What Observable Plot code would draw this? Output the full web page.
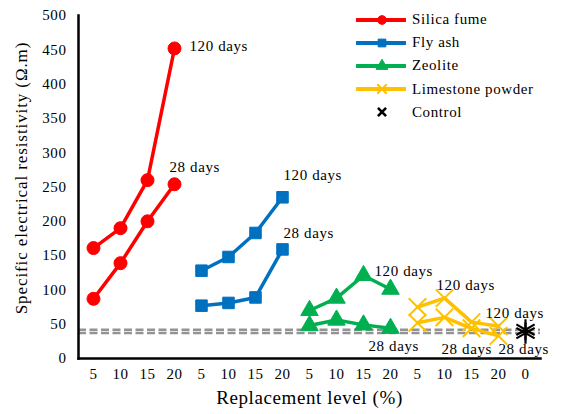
<!DOCTYPE html>
<html>
<head>
<meta charset="utf-8">
<script src="https://cdn.jsdelivr.net/npm/d3@7"></script>
<script src="https://cdn.jsdelivr.net/npm/@observablehq/plot@0.6"></script>
<style>
  html, body { margin: 0; padding: 0; background: #fff; }
  #wrap { position: relative; width: 561px; height: 414px; font-family: "Liberation Serif", "Times New Roman", serif; }
  #legend { position: absolute; left: 356px; top: 8px; font-size: 15px; letter-spacing: 0.6px; color: #000; }
  #legend .row { display: flex; align-items: center; height: 23.2px; }
  #legend svg { margin-right: 6px; }
  #ytitle { position: absolute; left: 22px; top: 178px; transform: translate(-50%, -50%) rotate(-90deg);
            white-space: nowrap; font-size: 17px; letter-spacing: 0.9px; color: #000; }
</style>
</head>
<body>
<div id="wrap"><div id="legend"></div><div id="ytitle">Specific electrical resistivity (Ω.m)</div></div>
<script>
// ---- data ----
const groups = ["Silica fume", "Fly ash", "Zeolite", "Limestone powder"];
const levels = [5, 10, 15, 20];
const silicaFume120 = [161, 190, 260, 452];
const silicaFume28  = [87, 139, 200, 254];
const flyAsh120     = [128, 148, 183, 235];
const flyAsh28      = [77, 81, 89, 159];
const zeolite120    = [70, 88, 121, 101];
const zeolite28     = [48, 56, 49, 44];
const limestone120  = [75, 88, 53, 47];
const limestone28   = [52, 60, 44, 33];
const controlLevel  = 0;
const control120    = 42;
const control28     = 37;
const yTicks = [0, 50, 100, 150, 200, 250, 300, 350, 400, 450, 500];

// ---- styles ----
const colors  = ["#FF0000", "#0070C0", "#00B050", "#FFC000"];
const symbols = ["circle", "square", "triangle", "times"];
const radius  = [6.5, 6.5, 6.5, 8];

const series120 = [silicaFume120, flyAsh120, zeolite120, limestone120];
const series28  = [silicaFume28, flyAsh28, zeolite28, limestone28];

const key = (g, l) => g + "|" + l;
const xDomain = groups.flatMap(g => levels.map(l => key(g, l))).concat([key("Control", controlLevel)]);

const rows = [];
groups.forEach((g, gi) => {
  levels.forEach((l, li) => {
    rows.push({group: g, age: "120", key: key(g, l), value: series120[gi][li]});
    rows.push({group: g, age: "28", key: key(g, l), value: series28[gi][li]});
  });
});
const controlRows = [
  {age: "120", key: key("Control", controlLevel), value: control120},
  {age: "28", key: key("Control", controlLevel), value: control28}
];

// label annotations anchored on data points (offsets in px)
const labels = [
  {key: key("Silica fume", 20), value: silicaFume120[3], text: "120 days", dx: 15, dy: -2},
  {key: key("Silica fume", 20), value: silicaFume28[3], text: "28 days", dx: -5, dy: -17},
  {key: key("Fly ash", 20), value: flyAsh120[3], text: "120 days", dx: 1, dy: -22},
  {key: key("Fly ash", 20), value: flyAsh28[3], text: "28 days", dx: 1, dy: -16},
  {key: key("Zeolite", 20), value: zeolite120[3], text: "120 days", dx: -16, dy: -18},
  {key: key("Zeolite", 20), value: zeolite28[3], text: "28 days", dx: -22, dy: 18},
  {key: key("Limestone powder", 10), value: limestone120[1], text: "120 days", dx: -8, dy: -13},
  {key: key("Limestone powder", 15), value: limestone28[2], text: "28 days", dx: -30, dy: 21},
  {key: key("Control", controlLevel), value: control120, text: "120 days", dx: -40, dy: -17},
  {key: key("Control", controlLevel), value: control28, text: "28 days", dx: -27, dy: 16}
];

const marks = [
  Plot.ruleY([control120, control28], {stroke: "#939393", strokeWidth: 2.5, strokeDasharray: "8,3.5"}),
  Plot.frame({anchor: "left", stroke: "#000", strokeWidth: 2.5}),
  Plot.frame({anchor: "bottom", stroke: "#000", strokeWidth: 2.5}),
  Plot.axisY({ticks: yTicks, tickSize: 0, tickPadding: 12, fontSize: 15, label: null}),
  Plot.axisX({tickSize: 0, tickPadding: 10, fontSize: 15, label: null, tickFormat: k => k.split("|")[1]}),
];
groups.forEach((g, gi) => {
  const data = rows.filter(d => d.group === g);
  marks.push(Plot.line(data, {x: "key", y: "value", z: "age", stroke: colors[gi], strokeWidth: 3.5}));
  marks.push(Plot.dot(data, {
    x: "key", y: "value", symbol: () => symbols[gi], r: radius[gi],
    fill: symbols[gi] === "times" ? "none" : colors[gi],
    stroke: colors[gi], strokeWidth: symbols[gi] === "times" ? 2 : 1
  }));
});
marks.push(Plot.dot(controlRows, {x: "key", y: "value", symbol: "asterisk", r: 10, stroke: "#000", strokeWidth: 2.2}));
labels.forEach(l => marks.push(
  Plot.text([l], {x: "key", y: "value", text: "text", dx: l.dx, dy: l.dy, textAnchor: "start", fontSize: 15, fill: "#000"})
));
marks.push(Plot.text(["Replacement level (%)"], {frameAnchor: "bottom", dy: 45, fontSize: 19, fill: "#000", style: "letter-spacing:0.9px"}));

const chart = Plot.plot({
  width: 561,
  height: 414,
  marginLeft: 78,
  marginRight: 21,
  marginTop: 15,
  marginBottom: 56,
  style: {fontFamily: "'Liberation Serif', 'Times New Roman', serif", color: "#000", background: "#fff", letterSpacing: "0.6px"},
  x: {type: "point", domain: xDomain, padding: 0.5},
  y: {domain: [0, 500]},
  symbol: {type: "identity"},
  marks
});
document.getElementById("wrap").prepend(chart);

// legend
const legendItems = groups.map((g, i) => ({label: g, color: colors[i], symbol: symbols[i], line: true}))
  .concat([{label: "Control", color: "#000", symbol: "times", line: false}]);
const legend = document.getElementById("legend");
legendItems.forEach((it, i) => {
  const row = document.createElement("div");
  row.className = "row";
  const sym = d3.symbol().type({
    circle: d3.symbolCircle, square: d3.symbolSquare, triangle: d3.symbolTriangle,
    times: d3.symbolTimes, asterisk: d3.symbolAsterisk
  }[it.symbol]).size(it.line ? 60 : 45)();
  const isStroke = it.symbol === "times" || it.symbol === "asterisk";
  row.innerHTML = `<svg width="50" height="16" viewBox="0 0 50 16">
    ${it.line ? `<line x1="1" y1="8" x2="49" y2="8" stroke="${it.color}" stroke-width="4" stroke-linecap="round"/>` : ""}
    <path d="${sym}" transform="translate(26,8)" fill="${isStroke ? "none" : it.color}" stroke="${it.color}" stroke-width="${isStroke ? (it.line ? 2 : 2.6) : 1}"/>
  </svg><span>${it.label}</span>`;
  legend.appendChild(row);
});
</script>
</body>
</html>
